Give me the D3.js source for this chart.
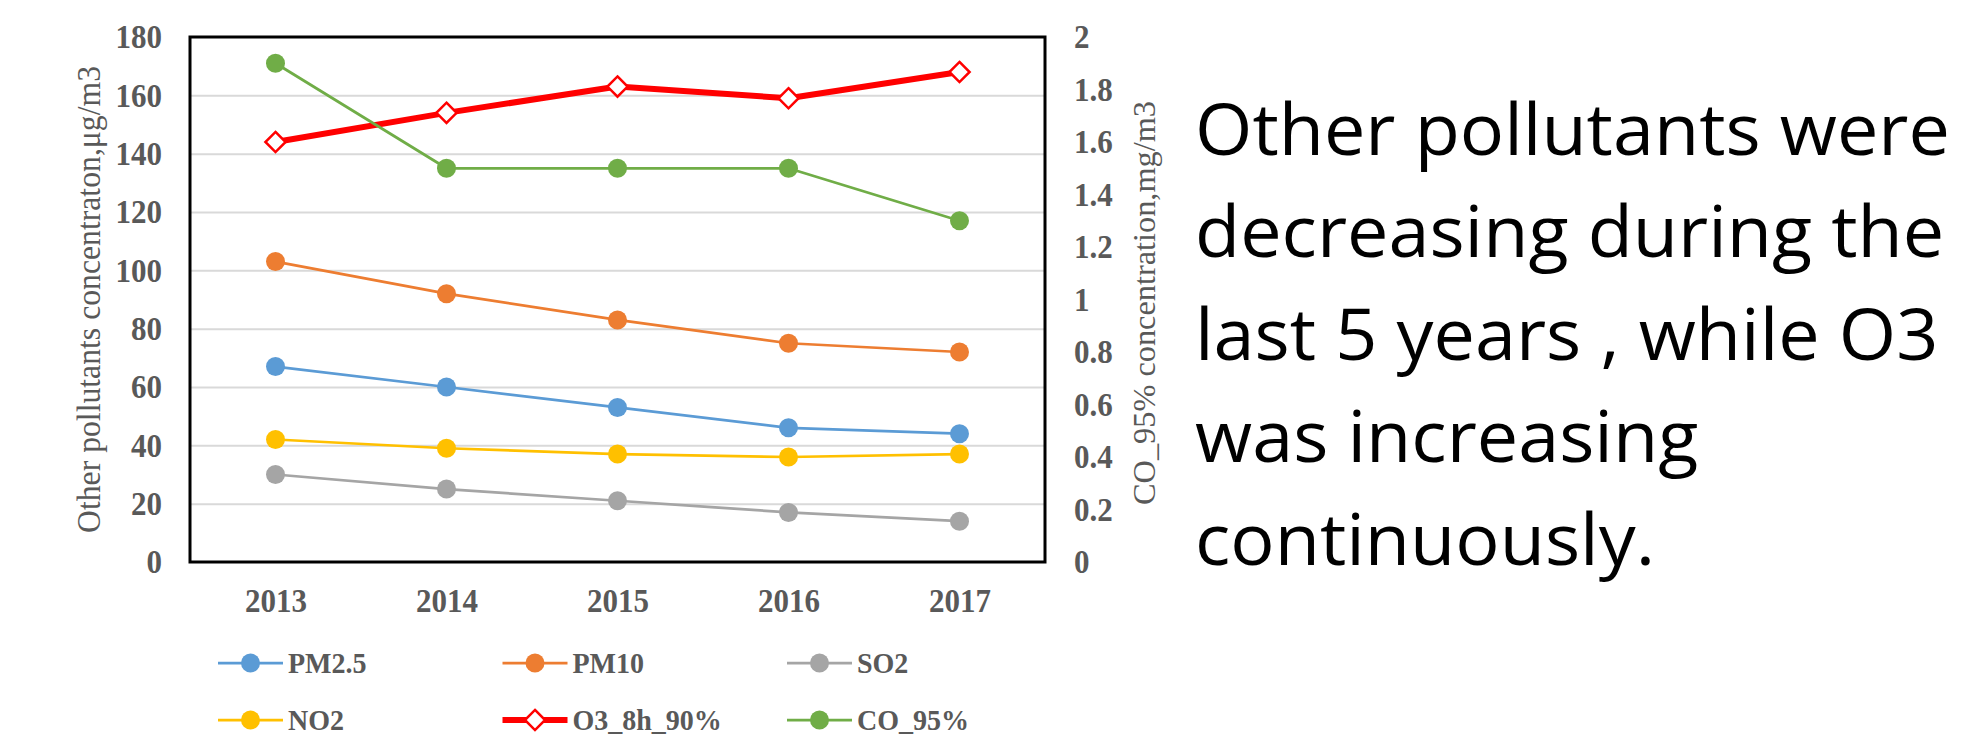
<!DOCTYPE html>
<html>
<head>
<meta charset="utf-8">
<script src="https://cdn.jsdelivr.net/npm/d3@7"></script>
<style>
    body { margin: 0; background: #fff; }
    svg { display: block; }
    .tick text { font-family: "Liberation Serif", serif; font-weight: bold; fill: #595959; }
</style>
</head>
<body>
<div id="chart"></div>
<script>
    // chart data
    const years = ["2013", "2014", "2015", "2016", "2017"];
    const pm25 = [67, 60, 53, 46, 44];
    const pm10 = [103, 92, 83, 75, 72];
    const so2 = [30, 25, 21, 17, 14];
    const no2 = [42, 39, 37, 36, 37];
    const o3 = [144, 154, 163, 159, 168];
    const co = [1.9, 1.5, 1.5, 1.5, 1.3];
    const leftTicks = [0, 20, 40, 60, 80, 100, 120, 140, 160, 180];
    const rightTicks = [0, 0.2, 0.4, 0.6, 0.8, 1, 1.2, 1.4, 1.6, 1.8, 2];
    const noteLines = ["Other pollutants were", "decreasing during the", "last 5 years , while O3", "was increasing", "continuously."];

    let width = 1970,
        height = 749;

    let plot = { left: 190, right: 1045, top: 37, bottom: 562 };

    let svg = d3.select('#chart').append('svg')
        .attr('width', width)
        .attr('height', height);

    let x = d3.scalePoint()
        .domain(years)
        .range([plot.left, plot.right])
        .padding(0.5);

    let yLeft = d3.scaleLinear()
        .domain([0, 180])
        .range([plot.bottom, plot.top]);

    let yRight = d3.scaleLinear()
        .domain([0, 2])
        .range([plot.bottom, plot.top]);

    let series = [
        { name: "PM2.5", values: pm25, color: "#5b9bd5", axis: yLeft, marker: "circle" },
        { name: "PM10", values: pm10, color: "#ed7d31", axis: yLeft, marker: "circle" },
        { name: "SO2", values: so2, color: "#a5a5a5", axis: yLeft, marker: "circle" },
        { name: "NO2", values: no2, color: "#ffc000", axis: yLeft, marker: "circle" },
        { name: "O3_8h_90%", values: o3, color: "#ff0000", axis: yLeft, marker: "diamond" },
        { name: "CO_95%", values: co, color: "#70ad47", axis: yRight, marker: "circle" }
    ];

    // the slide's labels look a bit taller than plain Times: grow the font, keep the width
    function stretch(sel, size, bigger) {
        sel.each(function () {
            let t = d3.select(this).attr("font-size", size);
            let len = this.getComputedTextLength();
            t.attr("font-size", bigger)
                .attr("textLength", len)
                .attr("lengthAdjust", "spacingAndGlyphs");
        });
    }

    // gridlines
    let grid = svg.append("g")
        .attr("transform", "translate(" + plot.left + ",0)")
        .call(d3.axisLeft(yLeft).tickValues(leftTicks.slice(1, -1)).tickSize(-(plot.right - plot.left)).tickFormat(""));
    grid.select(".domain").remove();
    grid.selectAll("line").attr("stroke", "#d9d9d9").attr("stroke-width", 2);

    // left axis labels
    let leftAxis = svg.append("g")
        .attr("transform", "translate(" + (plot.left - 28) + ",0)")
        .call(d3.axisLeft(yLeft).tickValues(leftTicks).tickSize(0).tickPadding(0));
    leftAxis.select(".domain").remove();
    leftAxis.selectAll(".tick text").attr("dy", "0.33em").call(stretch, 31, 33);

    // right axis labels
    let rightAxis = svg.append("g")
        .attr("transform", "translate(" + (plot.right + 29) + ",0)")
        .call(d3.axisRight(yRight).tickValues(rightTicks).tickSize(0).tickPadding(0).tickFormat(d3.format("~g")));
    rightAxis.select(".domain").remove();
    rightAxis.selectAll(".tick text").attr("dy", "0.33em").call(stretch, 31, 33);

    // x labels
    let xAxis = svg.append("g")
        .attr("transform", "translate(0," + (plot.bottom + 50) + ")")
        .call(d3.axisBottom(x).tickSize(0).tickPadding(0));
    xAxis.select(".domain").remove();
    xAxis.selectAll(".tick text").attr("dy", 0).call(stretch, 31, 33);

    // axis titles
    svg.append("text")
        .attr("transform", "translate(100," + 299.5 + ") rotate(-90)")
        .attr("text-anchor", "middle")
        .attr("font-family", "Liberation Serif, serif")
        .attr("font-size", 33)
        .attr("fill", "#595959")
        .attr("textLength", 467)
        .attr("lengthAdjust", "spacingAndGlyphs")
        .text("Other  pollutants concentraton,\u03bcg/m3");

    svg.append("text")
        .attr("transform", "translate(1155," + 303 + ") rotate(-90)")
        .attr("text-anchor", "middle")
        .attr("font-family", "Liberation Serif, serif")
        .attr("font-size", 31)
        .attr("fill", "#595959")
        .attr("textLength", 404)
        .attr("lengthAdjust", "spacingAndGlyphs")
        .text("CO_95% concentration,mg/m3");

    // plot border
    svg.append("rect")
        .attr("x", plot.left)
        .attr("y", plot.top)
        .attr("width", plot.right - plot.left)
        .attr("height", plot.bottom - plot.top)
        .attr("fill", "none")
        .attr("stroke", "#000")
        .attr("stroke-width", 3);

    let diamond = d3.symbol().type(d3.symbolDiamond2).size(260);

    function drawMarker(g, s, cx, cy) {
        if (s.marker === "diamond") {
            g.append("path")
                .attr("d", diamond)
                .attr("transform", "translate(" + cx + "," + cy + ")")
                .attr("fill", "#fff")
                .attr("stroke", s.color)
                .attr("stroke-width", 2.5);
        } else {
            g.append("circle")
                .attr("cx", cx)
                .attr("cy", cy)
                .attr("r", 9.5)
                .attr("fill", s.color);
        }
    }

    // lines + markers
    series.forEach(function (s) {
        let g = svg.append("g");
        let line = d3.line()
            .x(function (d, i) { return x(years[i]); })
            .y(function (d) { return s.axis(d); });
        g.append("path")
            .datum(s.values)
            .attr("d", line)
            .attr("fill", "none")
            .attr("stroke", s.color)
            .attr("stroke-width", s.marker === "diamond" ? 6 : 2.75)
            .attr("stroke-linejoin", "round");
        s.values.forEach(function (d, i) {
            drawMarker(g, s, x(years[i]), s.axis(d));
        });
    });

    // legend
    let legend = svg.append("g");
    series.forEach(function (s, i) {
        let lx = 218 + (i % 3) * 284.5,
            ly = 663 + Math.floor(i / 3) * 57;
        let item = legend.append("g");
        item.append("line")
            .attr("x1", lx).attr("x2", lx + 65)
            .attr("y1", ly).attr("y2", ly)
            .attr("stroke", s.color)
            .attr("stroke-width", s.marker === "diamond" ? 6 : 2.75);
        drawMarker(item, s, lx + 32.5, ly);
        item.append("text")
            .attr("x", lx + 70)
            .attr("y", ly + 10)
            .attr("font-family", "Liberation Serif, serif")
            .attr("font-weight", "bold")
            .attr("fill", "#595959")
            .text(s.name)
            .call(stretch, 28, 30);
    });

    // side note
    let note = svg.append("g").attr("transform", "translate(1195,0)");
    let noteText = note.selectAll("text")
        .data(noteLines)
        .enter()
        .append("text")
        .attr("x", 0)
        .attr("y", function (d, i) { return 155 + i * 102.5; })
        .attr("font-family", "Open Sans, sans-serif")
        .attr("font-size", 71)
        .attr("fill", "#000")
        .text(function (d) { return d; });

    let firstLen = noteText.node().getComputedTextLength();
    let k = 755 / firstLen;
    note.attr("transform", "translate(1195,0) scale(" + k + ",1)");
</script>
</body>
</html>
